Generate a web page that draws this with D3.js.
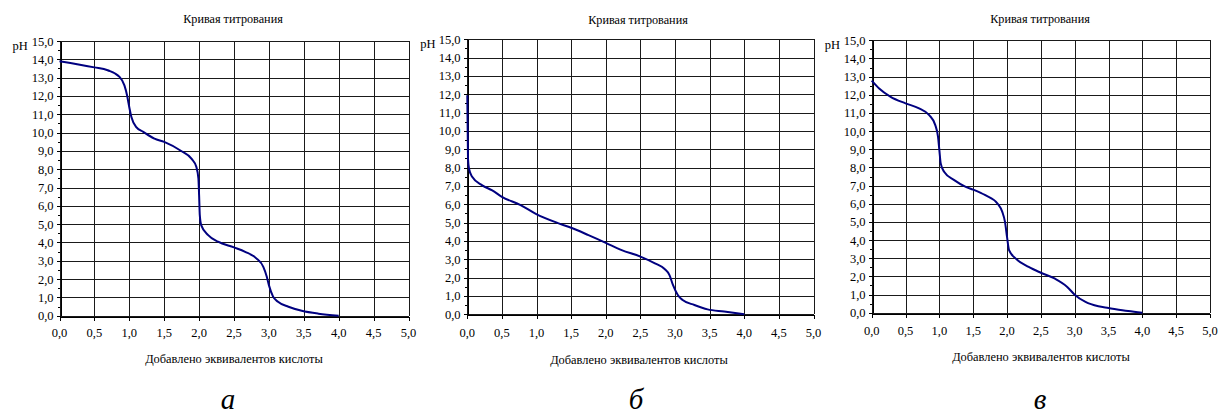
<!DOCTYPE html>
<html>
<head>
<meta charset="utf-8">
<script src="https://cdn.jsdelivr.net/npm/d3@7"></script>
<style>
  html, body { margin: 0; padding: 0; background: #fff; font-family: "Times New Roman", "Liberation Serif", serif; }
  svg { display: block; }
</style>
</head>
<body>
<svg id="chart" width="1218" height="415"></svg>
<script>
// Titration curves: pH versus equivalents of acid added
const chartTitle = "Кривая титрования";
const xAxisTitle = "Добавлено эквивалентов кислоты";
const yAxisTitle = "pH";
const panelLetters = ["а", "б", "в"];

const xTicks = [0, 0.5, 1, 1.5, 2, 2.5, 3, 3.5, 4, 4.5, 5];
const yTicks = [0, 1, 2, 3, 4, 5, 6, 7, 8, 9, 10, 11, 12, 13, 14, 15];
const yMinorTicks = [0.5, 1.5, 2.5, 3.5, 4.5, 5.5, 6.5, 7.5, 8.5, 9.5, 10.5, 11.5, 12.5, 13.5, 14.5];

// Curve а
const equivA = [0, 0.5, 0.69, 0.86, 0.93, 0.97, 0.99, 1.03, 1.10, 1.20, 1.36, 1.50, 1.75, 1.89, 1.96, 1.99, 2.00, 2.01, 2.03, 2.13, 2.27, 2.50, 2.66, 2.82, 2.92, 2.97, 3.00, 3.06, 3.13, 3.28, 3.47, 3.71, 4.00];
const phA    = [13.9, 13.56, 13.4, 13.04, 12.58, 12.0, 11.58, 10.85, 10.3, 10.04, 9.67, 9.49, 8.98, 8.58, 8.13, 7.49, 6.58, 5.49, 4.95, 4.4, 4.04, 3.73, 3.49, 3.13, 2.67, 2.13, 1.67, 1.04, 0.76, 0.49, 0.27, 0.11, 0.0];

// Curve б
const equivB = [0, 0.01, 0.024, 0.07, 0.216, 0.36, 0.5, 0.77, 0.99, 1.32, 1.5, 1.75, 2.0, 2.23, 2.5, 2.71, 2.85, 2.92, 2.97, 3.04, 3.11, 3.28, 3.47, 3.71, 4.0];
const phB    = [11.95, 8.5, 7.95, 7.5, 7.03, 6.76, 6.41, 5.96, 5.48, 4.96, 4.72, 4.32, 3.9, 3.5, 3.15, 2.78, 2.47, 2.14, 1.6, 1.05, 0.78, 0.51, 0.27, 0.15, 0.0];

// Curve в
const equivC = [0, 0.11, 0.28, 0.5, 0.70, 0.85, 0.94, 0.98, 1.0, 1.02, 1.07, 1.22, 1.39, 1.5, 1.68, 1.86, 1.93, 1.97, 2.0, 2.03, 2.13, 2.32, 2.5, 2.71, 2.89, 3.0, 3.16, 3.35, 3.5, 3.79, 4.0];
const phC    = [12.78, 12.35, 11.89, 11.53, 11.25, 10.88, 10.33, 9.69, 8.95, 8.22, 7.76, 7.3, 6.93, 6.78, 6.47, 6.01, 5.55, 5.0, 4.17, 3.44, 2.98, 2.52, 2.2, 1.87, 1.42, 0.99, 0.59, 0.35, 0.26, 0.09, 0.0];

const panels = [
  { x: equivA, y: phA, left: 59.5, right: 408.5, top: 41, bottom: 315.7, titleX: 233, titleY: 23, xtY: 337, atY: 363, letterX: 228, letterY: 409 },
  { x: equivB, y: phB, left: 467.3, right: 813.5, top: 39.3, bottom: 314.3, titleX: 638, titleY: 24, xtY: 337, atY: 364, letterX: 636, letterY: 409 },
  { x: equivC, y: phC, left: 871.7, right: 1210, top: 40.3, bottom: 312.7, titleX: 1040, titleY: 23, xtY: 335, atY: 361, letterX: 1040, letterY: 409 }
];

const SERIF = "'Times New Roman', 'Liberation Serif', Tinos, serif";
const fmt = v => v.toFixed(1).replace(".", ",");
const svg = d3.select("#chart").attr("font-family", SERIF);

panels.forEach((p, i) => {
  const xs = d3.scaleLinear().domain([0, 5]).range([p.left, p.right]);
  const ys = d3.scaleLinear().domain([0, 15]).range([p.bottom, p.top]);
  const g = svg.append("g").attr("font-family", SERIF);

  // grid
  const grid = g.append("g").attr("shape-rendering", "crispEdges").attr("stroke", "#1a1a1a").attr("stroke-width", 1);
  grid.selectAll("line.h").data(yTicks).join("line")
    .attr("x1", p.left).attr("x2", p.right)
    .attr("y1", d => Math.round(ys(d)) + 0.5).attr("y2", d => Math.round(ys(d)) + 0.5);
  grid.selectAll("line.v").data(xTicks).join("line")
    .attr("y1", p.top).attr("y2", p.bottom)
    .attr("x1", d => Math.round(xs(d)) + 0.5).attr("x2", d => Math.round(xs(d)) + 0.5);

  // y axis
  const yAxis = g.append("g").attr("transform", `translate(${Math.round(p.left) + 0.5},0)`)
    .call(d3.axisLeft(ys).tickValues(yTicks).tickFormat(fmt).tickSize(4).tickSizeOuter(0).tickPadding(3));
  yAxis.attr("font-family", SERIF).attr("font-size", 12.5);
  yAxis.select(".domain").attr("stroke", "#000").attr("shape-rendering", "crispEdges");
  yAxis.selectAll(".tick line").attr("shape-rendering", "crispEdges");
  yAxis.selectAll("text").attr("font-family", SERIF).attr("fill", "#000");
  g.append("g").attr("shape-rendering", "crispEdges").selectAll("line").data(yMinorTicks).join("line")
    .attr("x1", Math.round(p.left) - 2.5).attr("x2", Math.round(p.left))
    .attr("y1", d => Math.round(ys(d)) + 0.5).attr("y2", d => Math.round(ys(d)) + 0.5)
    .attr("stroke", "#000");

  // x axis
  const xAxis = g.append("g").attr("transform", `translate(0,${Math.round(p.bottom) + 0.5})`)
    .call(d3.axisBottom(xs).tickValues(xTicks).tickFormat(() => "").tickSize(4).tickSizeOuter(0));
  xAxis.select(".domain").attr("stroke", "#000").attr("shape-rendering", "crispEdges");
  xAxis.selectAll(".tick line").attr("shape-rendering", "crispEdges");
  g.append("g").selectAll("text").data(xTicks).join("text")
    .attr("x", d => xs(d)).attr("y", p.xtY)
    .attr("text-anchor", "middle").attr("font-size", 12.5).attr("font-family", SERIF)
    .text(fmt);

  // curve
  const pts = p.x.map((v, k) => [v, p.y[k]]);
  g.append("path").datum(pts)
    .attr("fill", "none").attr("stroke", "#000080").attr("stroke-width", 2)
    .attr("stroke-linejoin", "round")
    .attr("d", d3.line().x(d => xs(d[0])).y(d => ys(d[1])).curve(d3.curveMonotoneX));

  // texts
  g.append("text").attr("x", p.titleX).attr("y", p.titleY).attr("text-anchor", "middle")
    .attr("font-family", SERIF).attr("font-size", 12.2).text(chartTitle);
  g.append("text").attr("x", p.left - 47).attr("y", p.top + 9)
    .attr("font-family", SERIF).attr("font-size", 12.5).text(yAxisTitle);
  g.append("text").attr("x", p.titleX + 1).attr("y", p.atY).attr("text-anchor", "middle")
    .attr("font-family", SERIF).attr("font-size", 12.4).text(xAxisTitle);
  g.append("text").attr("x", p.letterX).attr("y", p.letterY).attr("text-anchor", "middle")
    .attr("font-family", SERIF).attr("font-size", 29).attr("font-style", "italic").text(panelLetters[i]);
});
</script>
</body>
</html>
